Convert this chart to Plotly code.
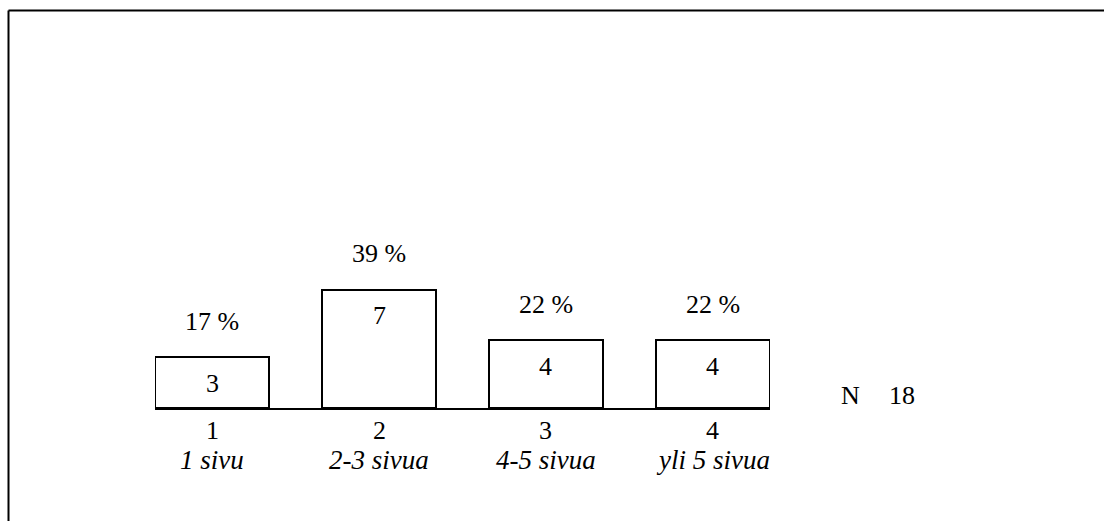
import plotly.graph_objects as go

# Survey answers: length of the document in pages
codes = [1, 2, 3, 4]
labels = ["1 sivu", "2-3 sivua", "4-5 sivua", "yli 5 sivua"]
counts = [3, 7, 4, 4]
n_total = 18

percents = [round(c / n_total * 100) for c in counts]

FONT = "Liberation Serif, Times New Roman, serif"
W, H = 1104, 521
# plot area in pixels
L, R, T, B = 155, 770, 239, 408


def px_to_paper(x, y):
    return (x - L) / (R - L), (B - y) / (B - T)


def txt(size, **kw):
    d = dict(showarrow=False, xanchor="center", yanchor="middle",
             font=dict(family=FONT, size=size, color="black"))
    d.update(kw)
    return d


fig = go.Figure()
fig.add_trace(go.Bar(
    x=codes,
    y=counts,
    width=0.686,
    marker=dict(color="white", line=dict(color="black", width=2)),
    hoverinfo="skip",
))

ann = []
for c, v, p, lab in zip(codes, counts, percents, labels):
    ann.append(txt(26, x=c, y=v, text=f"{p} %", yshift=36))
    ann.append(txt(26, x=c, y=v, text=str(v), yshift=-26))
    ann.append(txt(26, x=c, y=0, text=str(c), yshift=-22))
    ann.append(txt(27, x=c, y=0, text=f"<i>{lab}</i>", yshift=-52))

nx, ny = px_to_paper(851, 395)
ann.append(txt(26, xref="paper", yref="paper", x=nx, y=ny, text="N"))
nx, ny = px_to_paper(901.5, 395)
ann.append(txt(26, xref="paper", yref="paper", x=nx, y=ny, text=str(n_total)))

# frame: top and left edges
x0, y0 = px_to_paper(8.5, 10.5)
x1, y1 = px_to_paper(W + 2, H + 2)
shapes = [
    dict(type="line", xref="paper", yref="paper", x0=x0, y0=y0, x1=x1, y1=y0,
         line=dict(color="black", width=2)),
    dict(type="line", xref="paper", yref="paper", x0=x0, y0=y0, x1=x0, y1=y1,
         line=dict(color="black", width=2)),
]

fig.update_layout(
    width=W, height=H,
    margin=dict(l=L, r=W - R, t=T, b=H - B, pad=0),
    paper_bgcolor="white", plot_bgcolor="white",
    showlegend=False,
    annotations=ann,
    shapes=shapes,
    bargap=0,
    xaxis=dict(range=[1 - 0.343, 4 + 0.343], showgrid=False, zeroline=False,
               showticklabels=False, ticks="", showline=True, linecolor="black",
               linewidth=2, fixedrange=True),
    yaxis=dict(range=[0, 10], showgrid=False, zeroline=False, showticklabels=False,
               ticks="", showline=False, fixedrange=True),
)

fig.write_html("out.html", config={"displayModeBar": False})
